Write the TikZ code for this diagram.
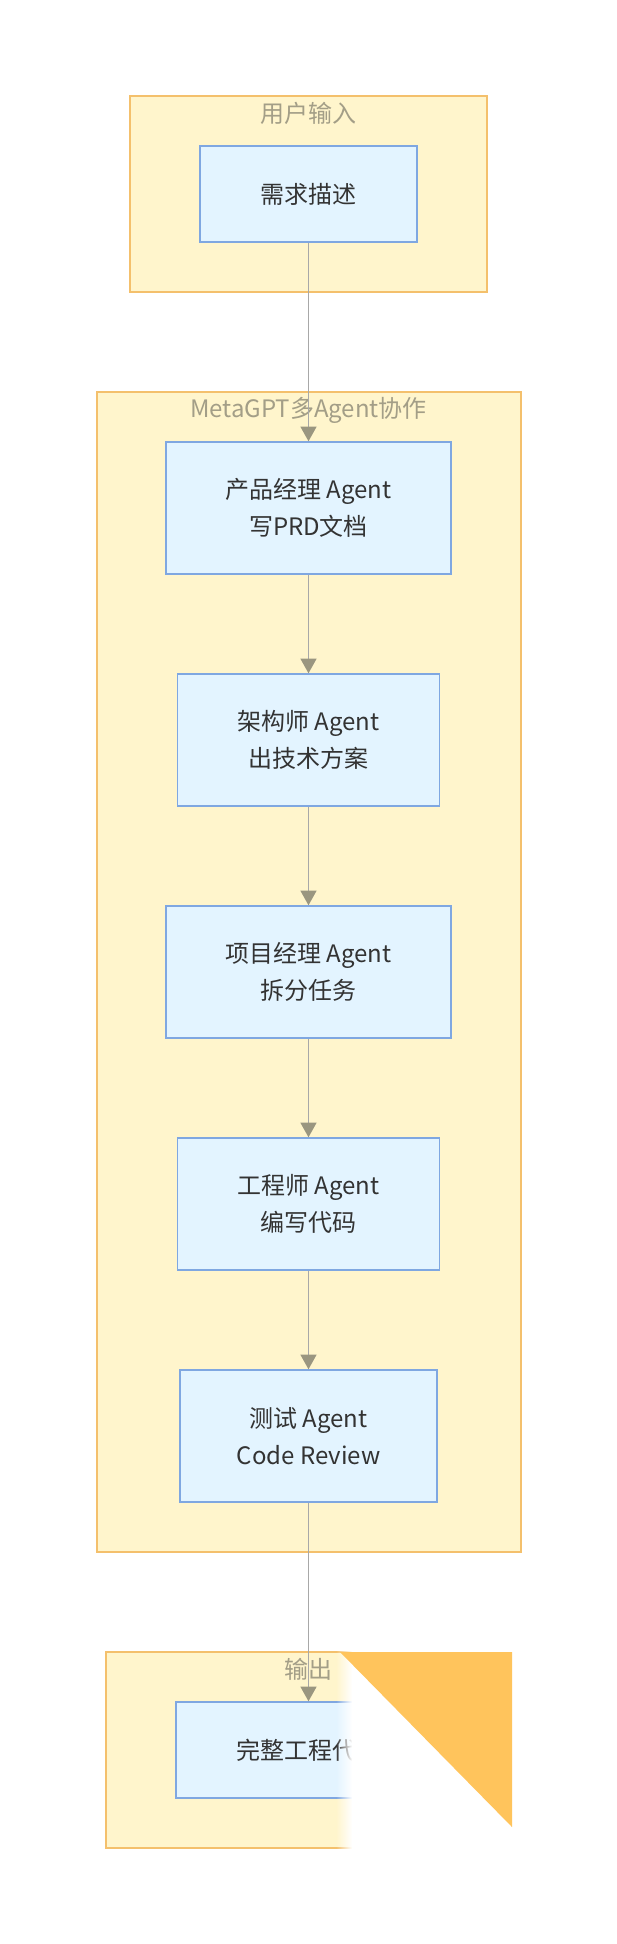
\documentclass[tikz,border=0pt]{standalone}
\usepackage{fontspec}
\setmainfont{Noto Sans CJK SC}
\usepackage{xcolor}
\usetikzlibrary{arrows.meta,positioning,fadings}
\definecolor{clusterfill}{HTML}{FFF5CC}
\definecolor{clusterline}{HTML}{F4C06C}
\definecolor{boxfill}{HTML}{E3F4FF}
\definecolor{boxline}{HTML}{7FA7E1}
\definecolor{ink}{HTML}{333333}
\definecolor{titleink}{HTML}{A39E87}
\definecolor{flow}{HTML}{A8A8A8}
\definecolor{flowtip}{HTML}{9A9680}
\definecolor{curl}{HTML}{FFC45C}
\tikzfading[name=fadeinright, left color=transparent!100, right color=transparent!0]
\tikzset{
  cluster/.style={draw=clusterline, fill=clusterfill, line width=1.1pt},
  clustertitle/.style={text=titleink, inner sep=0pt},
  agentbox/.style={draw=boxline, fill=boxfill, line width=1.1pt, text=ink,
    align=center, inner sep=0pt, minimum height=132*0.75pt},
  flowline/.style={draw=flow, line width=1.1pt,
    -{Triangle[length=11pt,width=12pt,color=flowtip]}},
}

\begin{document}
\begin{tikzpicture}[x=0.75pt, y=-0.75pt, font=\fontsize{18}{27.5}\selectfont]
  \useasboundingbox (0,0) rectangle (617,1944);
  % groups
  \draw[cluster] (130,96) rectangle (487,292);
  \draw[cluster] (97,392) rectangle (521,1552);
  \draw[cluster] (106,1652) rectangle (511,1848);
  \node[clustertitle] (tin) at (308.5,113) {用户输入};
  \node[clustertitle] (tteam) at (308.5,410) {MetaGPT多Agent协作};
  \node[clustertitle] (tout) at (308.5,1669) {输出};
  % steps
  \node[agentbox, minimum width=217*0.75pt, minimum height=96*0.75pt] (req) at (308.5,194) {需求描述};
  \node[agentbox, minimum width=285*0.75pt] (pm) at (308.5,508) {产品经理 Agent\\写PRD文档};
  \node[agentbox, minimum width=262*0.75pt] (arch) at (308.5,740) {架构师 Agent\\出技术方案};
  \node[agentbox, minimum width=285*0.75pt] (proj) at (308.5,972) {项目经理 Agent\\拆分任务};
  \node[agentbox, minimum width=262*0.75pt] (eng) at (308.5,1204) {工程师 Agent\\编写代码};
  \node[agentbox, minimum width=257*0.75pt] (qa) at (308.5,1436) {测试 Agent\\Code Review};
  \node[agentbox, minimum width=265*0.75pt, minimum height=96*0.75pt] (code) at (308.5,1750) {完整工程代码};
  % flow
  \foreach \a/\b in {req/pm, pm/arch, arch/proj, proj/eng, eng/qa, qa/code}
    \draw[flowline] (\a.south) -- (\b.north);
  % folded corner over the output group
  \fill[white, path fading=fadeinright] (336,1640) rectangle (352,1870);
  \fill[white] (352,1640) rectangle (545,1870);
  \fill[curl] (340,1652) -- (512,1652) -- (512,1827) -- cycle;
\end{tikzpicture}
\end{document}
